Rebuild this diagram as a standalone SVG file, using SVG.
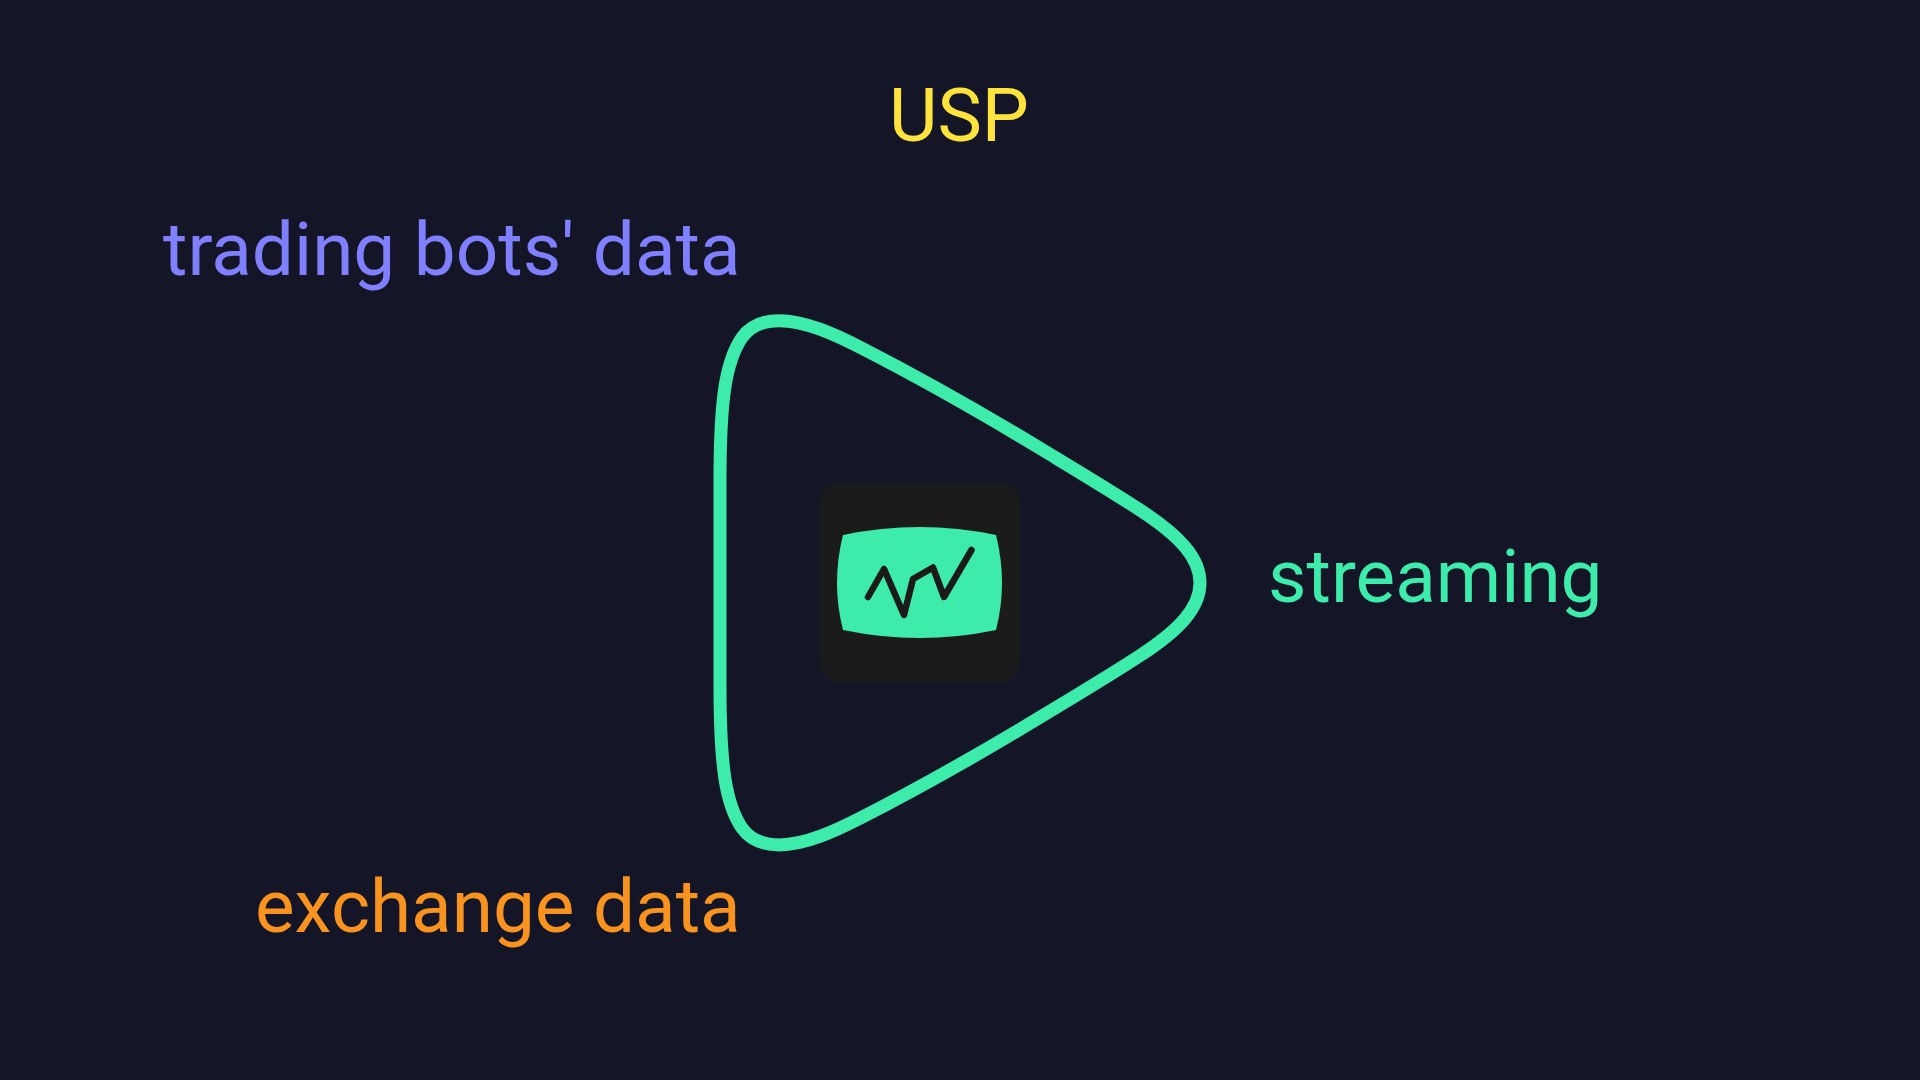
<svg xmlns="http://www.w3.org/2000/svg" width="1920" height="1080" viewBox="0 0 1920 1080">
<style>
text{font-family:Roboto,"Liberation Sans",sans-serif;font-size:74.67px}
</style>
<rect width="1920" height="1080" fill="#141627"/>
<g id="outline"><path d="M720 582.800L720 480C720 445 721.100 411.700 725 386.700C727.900 368 733 351 741.700 338C751 324.500 764 320.700 779.300 320.700C805 320.700 835 334.500 860 347.300C920 378 980 412 1040 448.300C1073 468.300 1107 488.500 1140 510C1180 536 1200 558 1200 582.800C1200 607.600 1180 629.600 1140 655.600C1107 677.100 1073 697.300 1040 717.300C980 753.600 920 787.600 860 818.300C835 831.100 805 844.900 779.300 844.900C764 844.900 751 841.100 741.700 827.600C733 814.600 727.900 797.600 725 778.900C721.100 753.900 720 720.600 720 685.600Z" fill="none" stroke="#3debaa" stroke-width="13"/></g>
<g id="icon">
<rect x="820" y="483" width="200" height="200" rx="20" fill="#1b1b1b"/>
<path d="M843 535Q920 519 996 535Q1008 583 996 630Q920 646 843 630Q831 583 843 535Z" fill="#3debaa"/>
<path d="M868 597L884 569L904 615L913 579L933 567.500L944 597L971.500 550" fill="none" stroke="#1b1b1b" stroke-width="6.500" stroke-linecap="round" stroke-linejoin="round"/>
</g>
<g id="labels">
<text x="889" y="141" fill="#ffe33d">USP</text>
<text x="163" y="275" fill="#8080ff">trading bots' data</text>
<text x="1268" y="602" fill="#3debaa">streaming</text>
<text x="255" y="932" fill="#f7931e">exchange data</text>
</g>
</svg>
